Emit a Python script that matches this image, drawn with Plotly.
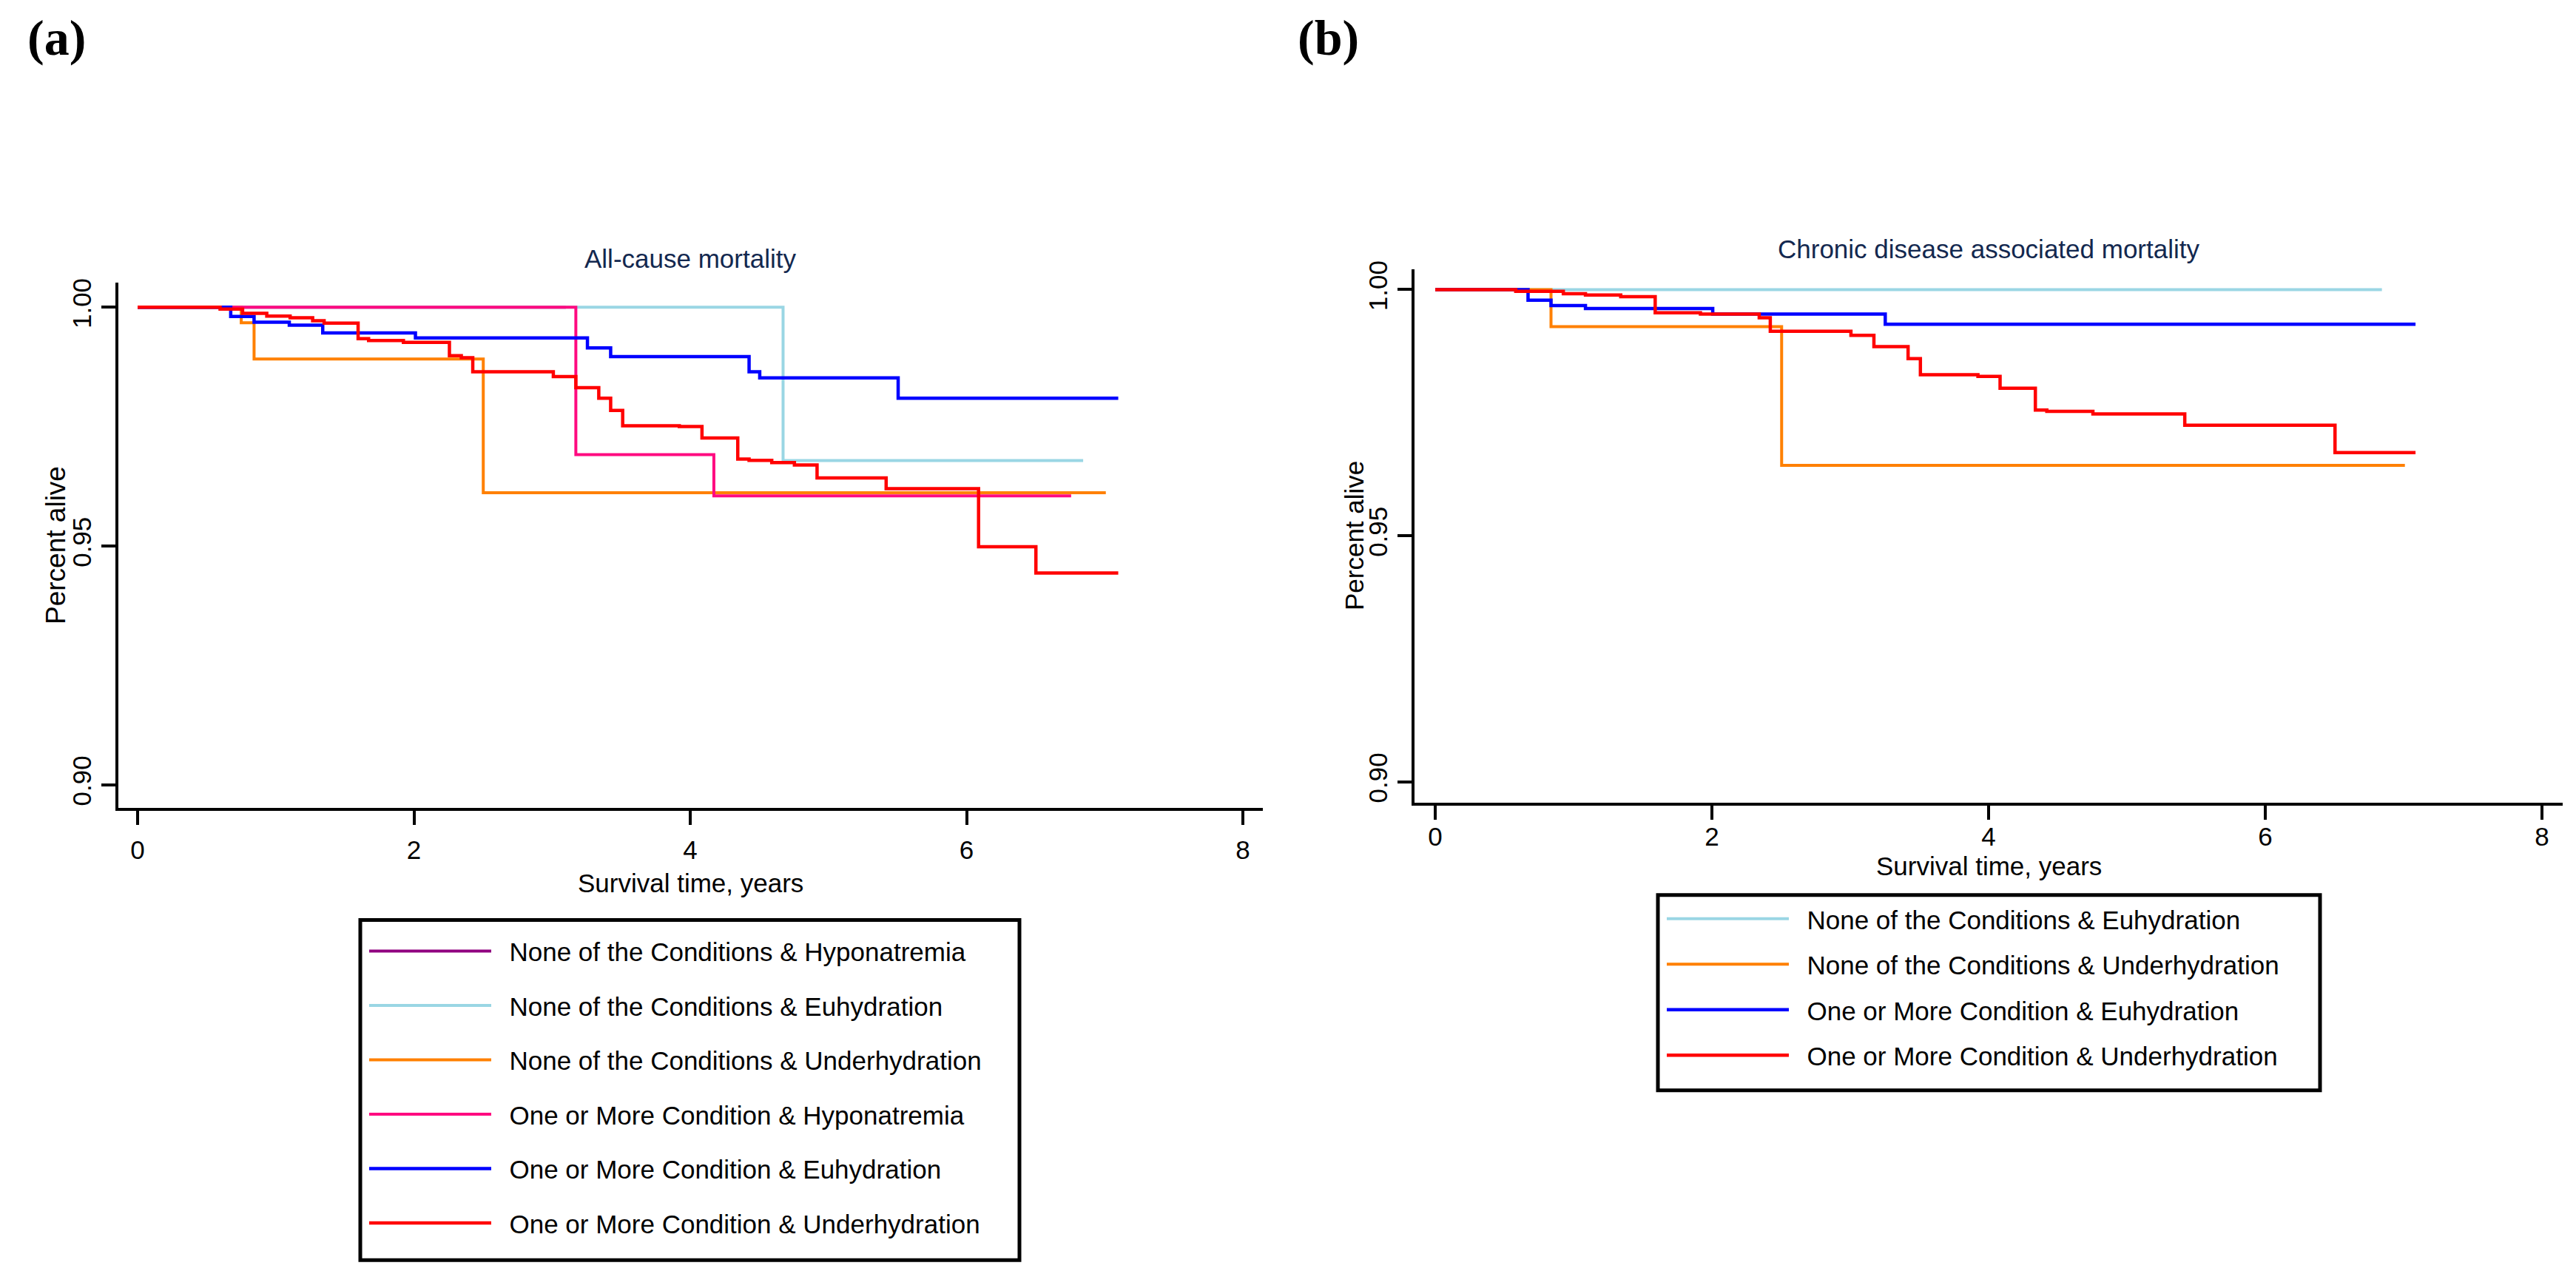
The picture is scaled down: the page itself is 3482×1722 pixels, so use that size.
import plotly.graph_objects as go

W, H = 3482, 1722

# ---------------- data: panel (a) All-cause mortality ----------------
labels_a = [
    "None of the Conditions & Hyponatremia",
    "None of the Conditions & Euhydration",
    "None of the Conditions & Underhydration",
    "One or More Condition & Hyponatremia",
    "One or More Condition & Euhydration",
    "One or More Condition & Underhydration",
]
colors_a = ["#900080", "#9AD6E4", "#FF8000", "#FF0A80", "#0000FF", "#FF0000"]

purple_a_t = [0, 3.10]
purple_a_s = [1.0, 1.0]
ltblue_a_t = [0, 4.672, 6.844]
ltblue_a_s = [1.0, 0.9679, 0.9679]
orange_a_t = [0, 0.750, 0.843, 2.502, 7.008]
orange_a_s = [1.0, 0.99676, 0.98916, 0.96115, 0.96115]
pink_a_t = [0, 3.172, 4.171, 6.757]
pink_a_s = [1.0, 0.96912, 0.96048, 0.96048]
blue_a_t = [0, 0.674, 0.843, 1.098, 1.340, 2.011, 3.256, 3.424, 4.426, 4.503, 5.505, 7.098]
blue_a_s = [1.0, 0.99805, 0.99687, 0.99625, 0.99460, 0.99358, 0.99147, 0.98967,
            0.98649, 0.98520, 0.98093, 0.98093]
red_a_t = [0, 0.597, 0.760, 0.935, 1.104, 1.267, 1.350, 1.596, 1.672, 1.924, 2.257,
           2.343, 2.426, 3.009, 3.172, 3.338, 3.424, 3.511, 3.921, 4.085, 4.344,
           4.426, 4.590, 4.754, 4.918, 5.418, 6.087, 6.502, 7.098]
red_a_s = [1.0, 0.99959, 0.99872, 0.99815, 0.99779, 0.99717, 0.99666, 0.99342, 0.99301,
           0.99265, 0.98983, 0.98941, 0.98649, 0.98546, 0.98314, 0.98093, 0.97837,
           0.97518, 0.97503, 0.97261, 0.96819, 0.96793, 0.96747, 0.96696, 0.96423,
           0.96202, 0.94985, 0.94435, 0.94435]

# ---------------- data: panel (b) Chronic disease associated mortality ----------------
labels_b = [
    "None of the Conditions & Euhydration",
    "None of the Conditions & Underhydration",
    "One or More Condition & Euhydration",
    "One or More Condition & Underhydration",
]
colors_b = ["#9AD6E4", "#FF8000", "#0000FF", "#FF0000"]

ltblue_b_t = [0, 6.843]
ltblue_b_s = [1.0, 1.0]
orange_b_t = [0, 0.837, 2.504, 7.009]
orange_b_s = [1.0, 0.99247, 0.96430, 0.96430]
blue_b_t = [0, 0.671, 0.837, 1.086, 2.006, 3.253, 7.086]
blue_b_s = [1.0, 0.99786, 0.99675, 0.99615, 0.99503, 0.99294, 0.99294]
red_b_t = [0, 0.582, 0.926, 1.086, 1.341, 1.590, 1.917, 2.342, 2.422, 3.005, 3.171,
           3.418, 3.507, 3.923, 4.083, 4.338, 4.421, 4.754, 5.418, 6.504, 7.086]
red_b_s = [1.0, 0.99966, 0.99914, 0.99889, 0.99854, 0.99529, 0.99503, 0.99428, 0.99154,
           0.99070, 0.98841, 0.98596, 0.98271, 0.98236, 0.97997, 0.97551, 0.97526,
           0.97474, 0.97243, 0.96687, 0.96687]

x_ticks = [0, 2, 4, 6, 8]
y_ticks = [0.90, 0.95, 1.00]
y_ticktext = ["0.90", "0.95", "1.00"]

title_a = "All-cause mortality"
title_b = "Chronic disease associated mortality"
x_title = "Survival time, years"
y_title = "Percent alive"

# ---------------- figure ----------------
SANS = "Liberation Sans, Arial, Helvetica, sans-serif"
SERIF = "Liberation Serif, Times New Roman, serif"
NAVY = "#13284F"
GAP = "\u00a0\u00a0"  # small gap between legend key line and its label

def px_x(v):
    return v / W

def px_y(v):
    return 1 - v / H

fig = go.Figure()

series_a = [(purple_a_t, purple_a_s), (ltblue_a_t, ltblue_a_s), (orange_a_t, orange_a_s),
            (pink_a_t, pink_a_s), (blue_a_t, blue_a_s), (red_a_t, red_a_s)]
widths_a = [4, 4, 4, 4, 4.5, 4.5]
for i, ((t, s), lab, col) in enumerate(zip(series_a, labels_a, colors_a)):
    fig.add_trace(go.Scatter(
        x=t, y=s, mode="lines", name=GAP + lab,
        line=dict(color=col, width=widths_a[i], shape="hv"),
        xaxis="x", yaxis="y", legend="legend", legendgroup="a%d" % i,
    ))

series_b = [(ltblue_b_t, ltblue_b_s), (orange_b_t, orange_b_s),
            (blue_b_t, blue_b_s), (red_b_t, red_b_s)]
widths_b = [4, 4, 4.5, 4.5]
for i, ((t, s), lab, col) in enumerate(zip(series_b, labels_b, colors_b)):
    fig.add_trace(go.Scatter(
        x=t, y=s, mode="lines", name=GAP + lab,
        line=dict(color=col, width=widths_b[i], shape="hv"),
        xaxis="x2", yaxis="y2", legend="legend2", legendgroup="b%d" % i,
    ))

axis_common = dict(
    showgrid=False, zeroline=False, showline=True, linecolor="black", linewidth=4,
    ticks="outside", ticklen=19, tickwidth=4, tickcolor="black",
    tickfont=dict(family=SANS, size=35, color="black"),
)

fig.update_layout(
    width=W, height=H,
    margin=dict(l=0, r=0, t=0, b=0),
    paper_bgcolor="white", plot_bgcolor="white",
    font=dict(family=SANS, color="black"),
    showlegend=True,
    xaxis=dict(domain=[px_x(152), px_x(1699)], range=[-0.1392, 8.1446],
               tickvals=x_ticks, anchor="y", ticklabelstandoff=4, **axis_common),
    yaxis=dict(domain=[px_y(1081), px_y(366)], range=[0.89508, 1.005077],
               tickvals=y_ticks, ticktext=y_ticktext, tickangle=-90, anchor="x",
               **axis_common),
    xaxis2=dict(domain=[px_x(1904), px_x(3456)], range=[-0.1497, 8.1497],
                tickvals=x_ticks, anchor="y2", ticklabelstandoff=-7, **axis_common),
    yaxis2=dict(domain=[px_y(1073), px_y(347)], range=[0.89582, 1.00418],
                tickvals=y_ticks, ticktext=y_ticktext, tickangle=-90, anchor="x2",
                **axis_common),
    legend=dict(x=px_x(486), y=px_y(1246), xanchor="left", yanchor="top",
                bgcolor="rgba(0,0,0,0)", borderwidth=0, traceorder="grouped",
                tracegroupgap=25, itemwidth=165,
                font=dict(family=SANS, size=35, color="black")),
    legend2=dict(x=px_x(2240), y=px_y(1202), xanchor="left", yanchor="top",
                 bgcolor="rgba(0,0,0,0)", borderwidth=0, traceorder="grouped",
                 tracegroupgap=13, itemwidth=165,
                 font=dict(family=SANS, size=35, color="black")),
)

# legend frames
fig.add_shape(type="rect", xref="paper", yref="paper",
              x0=px_x(479), x1=px_x(1370), y0=px_y(1696), y1=px_y(1233),
              line=dict(color="black", width=5), fillcolor="rgba(0,0,0,0)", layer="above")
fig.add_shape(type="rect", xref="paper", yref="paper",
              x0=px_x(2233), x1=px_x(3128), y0=px_y(1465), y1=px_y(1199),
              line=dict(color="black", width=5), fillcolor="rgba(0,0,0,0)", layer="above")

ann = []
# panel labels
ann.append(dict(text="<b>(a)</b>", x=px_x(68), y=px_y(32), font=dict(family=SERIF, size=68, color="black")))
ann.append(dict(text="<b>(b)</b>", x=px_x(1787), y=px_y(32), font=dict(family=SERIF, size=68, color="black")))
# panel titles
ann.append(dict(text=title_a, x=px_x(925), y=px_y(333), font=dict(family=SANS, size=35, color=NAVY)))
ann.append(dict(text=title_b, x=px_x(2680), y=px_y(320), font=dict(family=SANS, size=35, color=NAVY)))
# axis titles
ann.append(dict(text=x_title, x=px_x(925), y=px_y(1183), font=dict(family=SANS, size=35, color="black")))
ann.append(dict(text=x_title, x=px_x(2680), y=px_y(1160), font=dict(family=SANS, size=35, color="black")))
ann.append(dict(text=y_title, x=px_x(68), y=px_y(723), textangle=-90, font=dict(family=SANS, size=37, color="black")))
ann.append(dict(text=y_title, x=px_x(1822), y=px_y(710), textangle=-90, font=dict(family=SANS, size=35, color="black")))

for a in ann:
    a.update(xref="paper", yref="paper", xanchor="center", yanchor="middle", showarrow=False)
fig.update_layout(annotations=ann)

fig.write_html("out.html")
